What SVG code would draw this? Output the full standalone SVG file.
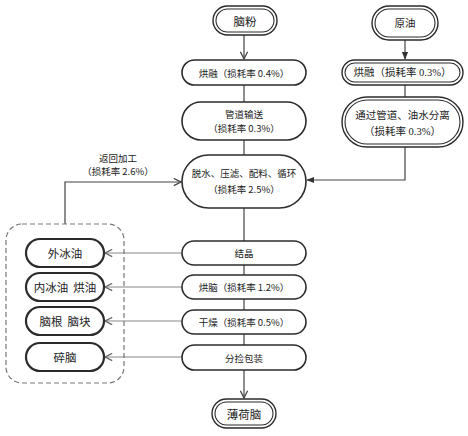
<svg xmlns="http://www.w3.org/2000/svg" width="468" height="436" viewBox="0 0 468 436">
<defs>
<style>
.bg{fill:#fff}
.n{fill:#fff;stroke:#2b2b2b;stroke-width:1.6}
.d{fill:#fff;stroke:#2b2b2b;stroke-width:1.4}
.di{fill:none;stroke:#2b2b2b;stroke-width:1.1}
.l{fill:#fff;stroke:#2b2b2b;stroke-width:2.2}
.grp{fill:none;stroke:#777;stroke-width:1.2;stroke-dasharray:5 3}
.t{font-family:"Noto Sans CJK SC",sans-serif;font-size:9.5px;fill:#222;text-anchor:middle;dominant-baseline:central}
.ts{font-family:"Liberation Serif","Noto Sans CJK SC",serif;font-size:10.5px;fill:#222;text-anchor:middle;dominant-baseline:central}
.tl{font-family:"Noto Sans CJK SC",sans-serif;font-size:11.5px;fill:#222;text-anchor:middle;dominant-baseline:central}
.c{fill:none;stroke:#444;stroke-width:1.2}
.cg{fill:none;stroke:#888;stroke-width:1.2}
</style>
<marker id="open" viewBox="0 0 10 10" refX="9" refY="5" markerWidth="9" markerHeight="9" markerUnits="userSpaceOnUse" orient="auto">
<path d="M1,1 L9,5 L1,9" fill="none" stroke="#444" stroke-width="1.4"/>
</marker>
<marker id="openg" viewBox="0 0 10 10" refX="9" refY="5" markerWidth="9" markerHeight="9" markerUnits="userSpaceOnUse" orient="auto">
<path d="M1,1 L9,5 L1,9" fill="none" stroke="#666" stroke-width="1.4"/>
</marker>
<marker id="fill" viewBox="0 0 10 10" refX="9" refY="5" markerWidth="8" markerHeight="8" markerUnits="userSpaceOnUse" orient="auto">
<path d="M0,1 L10,5 L0,9 Z" fill="#333"/>
</marker>
</defs>
<rect class="bg" x="0" y="0" width="468" height="436"/>

<g id="connectors">
<line class="c" x1="244" y1="35" x2="244" y2="59" marker-end="url(#open)"/>
<line class="c" x1="244" y1="85" x2="244" y2="102"/>
<line class="c" x1="244" y1="140" x2="244" y2="155"/>
<line class="c" x1="244" y1="208" x2="244" y2="241"/>
<line class="c" x1="244" y1="265" x2="244" y2="275"/>
<line class="c" x1="244" y1="299" x2="244" y2="310"/>
<line class="c" x1="244" y1="334" x2="244" y2="345"/>
<line class="c" x1="244" y1="370" x2="244" y2="398" marker-end="url(#open)"/>
<line class="c" x1="405" y1="40" x2="405" y2="59" marker-end="url(#fill)"/>
<line class="c" x1="405" y1="85" x2="405" y2="97"/>
<polyline class="c" points="405,147 405,180 307,180" marker-end="url(#fill)"/>
<polyline class="c" points="65,224 65,182 181,182" marker-end="url(#open)"/>
<line class="cg" x1="182" y1="253" x2="105" y2="253" marker-end="url(#openg)"/>
<line class="cg" x1="182" y1="287" x2="105" y2="287" marker-end="url(#openg)"/>
<line class="cg" x1="182" y1="321" x2="105" y2="321" marker-end="url(#openg)"/>
<line class="cg" x1="182" y1="357" x2="105" y2="357" marker-end="url(#openg)"/>
<text class="t" x="118" y="158">返回加工</text>
<text class="t" x="118" y="171">（损耗率 2.6%）</text>
</g>

<g id="group-byproducts">
<rect class="grp" x="6" y="224" width="118" height="159" rx="16"/>
</g>

<g id="n-naofen">
<rect class="d" x="213" y="6" width="64" height="29" rx="14.5"/>
<rect class="di" x="216" y="9" width="58" height="23" rx="11.5"/>
<text class="tl" x="245" y="20.5">脑粉</text>
</g>
<g id="n-hongrong1">
<rect class="n" x="182" y="60" width="124" height="25" rx="12.5"/>
<text class="t" x="244" y="72.5">烘融（损耗率 0.4%）</text>
</g>
<g id="n-guandao">
<rect class="n" x="182" y="102" width="124" height="38" rx="19"/>
<text class="t" x="244" y="114">管道输送</text>
<text class="t" x="244" y="128">（损耗率 0.3%）</text>
</g>
<g id="n-tuoshui">
<rect class="n" x="182" y="155" width="124" height="53" rx="26.5"/>
<text class="t" x="244" y="173">脱水、压滤、配料、循环</text>
<text class="t" x="244" y="189">（损耗率 2.5%）</text>
</g>
<g id="n-jiejing">
<rect class="n" x="182" y="241" width="124" height="24" rx="12"/>
<text class="t" x="244" y="253">结晶</text>
</g>
<g id="n-hongnao">
<rect class="n" x="182" y="275" width="124" height="24" rx="12"/>
<text class="t" x="244" y="287">烘脑（损耗率 1.2%）</text>
</g>
<g id="n-ganzao">
<rect class="n" x="182" y="310" width="124" height="24" rx="12"/>
<text class="t" x="244" y="322">干燥（损耗率 0.5%）</text>
</g>
<g id="n-baozhuang">
<rect class="n" x="182" y="345" width="124" height="25" rx="12.5"/>
<text class="t" x="244" y="357.5">分捡包装</text>
</g>
<g id="n-bohenao">
<rect class="d" x="212" y="399" width="64" height="29" rx="14.5"/>
<rect class="di" x="215" y="402" width="58" height="23" rx="11.5"/>
<text class="tl" x="244" y="413.5">薄荷脑</text>
</g>

<g id="n-yuanyou">
<rect class="d" x="372" y="6" width="66" height="34" rx="17"/>
<rect class="di" x="375" y="9" width="60" height="28" rx="14"/>
<text class="ts" x="405" y="23">原油</text>
</g>
<g id="n-hongrong2">
<rect class="d" x="342" y="60" width="121" height="25" rx="12.5"/>
<rect class="di" x="345" y="63" width="115" height="19" rx="9.5"/>
<text class="ts" x="402.5" y="72.5">烘融（损耗率 0.3%）</text>
</g>
<g id="n-fenli">
<rect class="d" x="342" y="97" width="121" height="50" rx="25"/>
<rect class="di" x="345" y="100" width="115" height="44" rx="22"/>
<text class="ts" x="402.5" y="115">通过管道、油水分离</text>
<text class="ts" x="402.5" y="131">（损耗率 0.3%）</text>
</g>

<g id="n-waibingyou">
<rect class="l" x="26" y="239" width="78" height="28" rx="14"/>
<text class="tl" x="65" y="253">外冰油</text>
</g>
<g id="n-neibingyou">
<rect class="l" x="26" y="273" width="78" height="28" rx="14"/>
<text class="tl" x="65" y="287">内冰油&#160;&#160;烘油</text>
</g>
<g id="n-naogen">
<rect class="l" x="26" y="307" width="78" height="28" rx="14"/>
<text class="tl" x="65" y="321">脑根&#160;&#160;脑块</text>
</g>
<g id="n-suinao">
<rect class="l" x="26" y="343" width="78" height="28" rx="14"/>
<text class="tl" x="65" y="357">碎脑</text>
</g>
</svg>
